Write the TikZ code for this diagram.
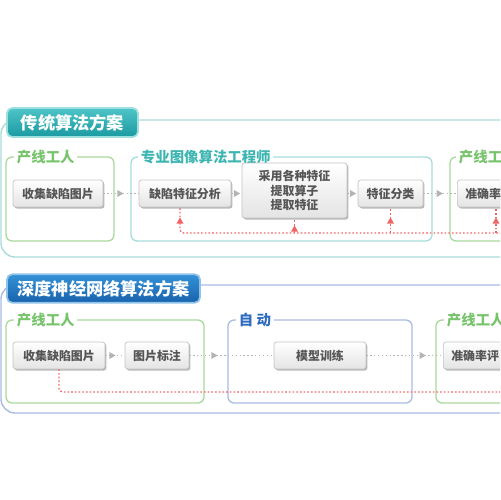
\documentclass[tikz,border=0pt]{standalone}
\usepackage{fontspec}
\setmainfont{Noto Sans CJK SC}
\usetikzlibrary{arrows.meta,positioning,shadows,decorations.markings}
\definecolor{boxline}{HTML}{C4C4C4}
\definecolor{boxfill}{HTML}{E4E4E4}
\definecolor{boxtext}{HTML}{555555}
\definecolor{arrgrey}{HTML}{B4B4B4}
\definecolor{fbred}{HTML}{F26464}
\definecolor{grnline}{HTML}{A9D99C}
\definecolor{grntext}{HTML}{78C46C}
\definecolor{tealline}{HTML}{A8DCDA}
\definecolor{tealtext}{HTML}{3DB6B2}
\definecolor{blueline}{HTML}{A9BCE3}
\definecolor{bluetext}{HTML}{2E6BBE}
\definecolor{tabtealtop}{HTML}{4EC4C7}
\definecolor{tabtealbot}{HTML}{1A9AA1}
\definecolor{tabbluetop}{HTML}{3592D6}
\definecolor{tabbluebot}{HTML}{1862AE}

\begin{document}
\begin{tikzpicture}[
    x=0.02cm, y=-0.02cm,
    >=Stealth,
    every node/.style={align=center},
    box/.style={draw=boxline, rounded corners=1.5pt, top color=white,
      bottom color=boxfill, text=boxtext,
      font=\fontsize{6.8}{8.2}\selectfont\bfseries,
      minimum height=0.54cm, inner sep=1pt,
      drop shadow={shadow xshift=0.8pt, shadow yshift=-0.9pt,
        fill=black, opacity=0.28}},
    cutbox/.style={box, anchor=west, text width=1.6cm, align=left,
      minimum width=1.8cm, inner xsep=4.5pt},
    tabteal/.style={draw=tabtealtop!55, line width=1pt, rounded corners=3pt,
      top color=tabtealtop, bottom color=tabtealbot, text=white,
      font=\fontsize{9.8}{11}\selectfont\bfseries},
    tabblue/.style={draw=tabbluetop!55, line width=1pt, rounded corners=3pt,
      top color=tabbluetop, bottom color=tabbluebot, text=white,
      font=\fontsize{9.8}{11}\selectfont\bfseries},
    outerteal/.style={draw=tealline, line width=0.8pt, rounded corners=8pt},
    outerblue/.style={draw=blueline, line width=0.8pt, rounded corners=8pt},
    grpgreen/.style={draw=grnline, line width=0.75pt, rounded corners=3.5pt},
    grpteal/.style={draw=tealline, line width=0.75pt, rounded corners=3.5pt},
    grpblue/.style={draw=blueline, line width=0.75pt, rounded corners=3.5pt},
    lbl/.style={anchor=west, fill=white, inner xsep=1.5pt, inner ysep=0pt,
      font=\fontsize{8.2}{10}\selectfont\bfseries},
    greyarr/.style={draw=arrgrey, line width=0.8pt,
      dash pattern=on 0.8pt off 1.4pt,
      decoration={markings, mark=at position #1 with
        {\arrow[arrgrey]{Triangle[length=3.6pt,width=3.8pt]}}},
      postaction={decorate}},
    reddot/.style={draw=fbred, line width=0.8pt,
      dash pattern=on 0.9pt off 1.2pt},
    redarr/.style={reddot,
      decoration={markings, mark=at position #1 with
        {\arrow[fbred]{Triangle[length=3.6pt,width=3.8pt]}}},
      postaction={decorate}},
  ]
    \useasboundingbox (0,0) rectangle (500,500);
    \clip (0,0) rectangle (500,500);

    % --- outer frames ---
    \draw[outerteal] (1,120) rectangle (560,257);
    \draw[outerblue] (1,285) rectangle (560,413);

    % --- title tabs ---
    \node[tabteal, minimum width=2.62cm, minimum height=0.58cm] (tab1)
      at (72.5,122.5) {传统算法方案};
    \node[tabblue, minimum width=3.86cm, minimum height=0.54cm] (tab2)
      at (103.5,288.5) {深度神经网络算法方案};

    % --- groups: traditional ---
    \draw[grpgreen] (6,157) rectangle (114,241);
    \draw[grpteal]  (131,157) rectangle (432,241);
    \draw[grpgreen] (450,157) rectangle (560,241);
    \node[lbl, text=grntext]  (tg1) at (14,157)  {产线工人};
    \node[lbl, text=tealtext] (tg2) at (138,157) {专业图像算法工程师};
    \node[lbl, text=grntext]  (tg3) at (456,157) {产线工人};

    % --- groups: deep network ---
    \draw[grpgreen] (6,320) rectangle (204,403);
    \draw[grpblue]  (228,320) rectangle (412,403);
    \draw[grpgreen] (436,320) rectangle (560,403);
    \node[lbl, text=grntext]  (bg1) at (14,320)  {产线工人};
    \node[lbl, text=bluetext] (bg2) at (236,320) {自 动};
    \node[lbl, text=grntext]  (bg3) at (444,320) {产线工人};

    % --- boxes: traditional ---
    \node[box, minimum width=1.8cm]  (t1) at (58,193.5)  {收集缺陷图片};
    \node[box, minimum width=1.84cm] (t2) at (185,193.5) {缺陷特征分析};
    \node[box, minimum width=2.1cm, minimum height=1.1cm] (t3) at (294.5,190.5)
      {采用各种特征\\提取算子\\提取特征};
    \node[box, minimum width=1.3cm]  (t4) at (390.5,193.5) {特征分类};
    \node[cutbox] (t5) at (457,193.5) {准确率};

    % --- boxes: deep network ---
    \node[box, minimum width=1.84cm] (b1) at (59,355.5)  {收集缺陷图片};
    \node[box, minimum width=1.28cm] (b2) at (157,355.5) {图片标注};
    \node[box, minimum width=1.84cm] (b3) at (320,355.5) {模型训练};
    \node[cutbox] (b4) at (443,355.5) {准确率评};

    % --- flow arrows ---
    \draw[greyarr=-0.3cm]  (t1) -- (t2);
    \draw[greyarr=-0.03cm] (t2) -- (t3.west |- t2);
    \draw[greyarr=-0.03cm] (t3.east |- t4) -- (t4);
    \draw[greyarr=-0.28cm] (t4) -- (t5);
    \draw[greyarr=-0.18cm] (b1) -- (b2);
    \draw[greyarr=-1.12cm] (b2) -- (b3);
    \draw[greyarr=-0.34cm] (b3) -- (b4);

    % --- feedback (red) ---
    \coordinate (fbR) at (520,233);
    \coordinate (t2s) at ([xshift=-0.1cm]t2.south);
    \coordinate (t5s) at ([xshift=0.78cm]t5.south west);
    \draw[redarr=-0.2cm, rounded corners=2pt] (fbR) -| (t2s);
    \draw[redarr=-0.14cm] (t3.south |- fbR) -- (t3.south);
    \draw[redarr=-0.2cm]  (t4.south |- fbR) -- (t4.south);
    \draw[redarr=-0.2cm]  (t5s |- fbR) -- (t5s);

    \coordinate (fbB) at (520,392);
    \draw[reddot, rounded corners=2pt] (b1.south) |- (fbB);
\end{tikzpicture}
\end{document}
